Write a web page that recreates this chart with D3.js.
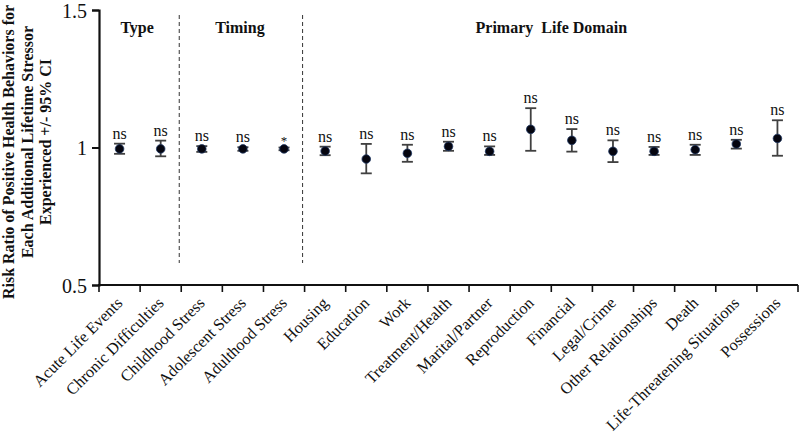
<!DOCTYPE html>
<html>
<head>
<meta charset="utf-8">
<script src="https://cdn.jsdelivr.net/npm/d3@7"></script>
<style>
  body { margin: 0; background: #fff; }
  svg { display: block; }
  text { font-family: "Liberation Serif", "Times New Roman", serif; }
</style>
</head>
<body>
<svg id="chart" width="800" height="435"></svg>
<script>
const categories = ["Acute Life Events","Chronic Difficulties","Childhood Stress","Adolescent Stress","Adulthood Stress","Housing","Education","Work","Treatment/Health","Marital/Partner","Reproduction","Financial","Legal/Crime","Other Relationships","Death","Life-Threatening Situations","Possessions"];
const riskRatio = [0.995,0.995,0.995,0.995,0.995,0.987,0.958,0.979,1.004,0.986,1.066,1.026,0.986,0.986,0.992,1.013,1.033];
const ciLower  = [0.977,0.968,0.984,0.988,0.990,0.972,0.906,0.948,0.988,0.973,0.988,0.985,0.947,0.973,0.973,0.996,0.970];
const ciUpper  = [1.014,1.025,1.005,1.001,1.000,1.003,1.013,1.010,1.021,1.004,1.143,1.067,1.026,1.002,1.010,1.028,1.099];
const significance = ["ns","ns","ns","ns","*","ns","ns","ns","ns","ns","ns","ns","ns","ns","ns","ns","ns"];
const groups = [{name:"Type", start:0, end:2},{name:"Timing", start:2, end:5},{name:"Primary  Life Domain", start:5, end:17}];
const yTicks = [0.5, 1, 1.5];
const yTitle = ["Risk Ratio of Positive Health Behaviors for","Each Additional Lifetime Stressor","Experienced +/- 95% CI"];

const svg = d3.select("#chart");
const mLeft = 99, mRight = 798, mTop = 10, mBottom = 285;

const x = d3.scaleBand().domain(d3.range(categories.length)).range([mLeft, mRight]).padding(0);
const y = d3.scaleLinear().domain([0.5, 1.5]).range([mBottom, mTop]);

// dashed separators
groups.slice(1).forEach(g => {
  const xs = x(g.start) - 2;
  svg.append("line").attr("x1", xs).attr("x2", xs).attr("y1", 15).attr("y2", 263)
    .attr("stroke", "#333").attr("stroke-width", 1).attr("stroke-dasharray", "4,3");
});

// group labels
groups.forEach(g => {
  const cx = (x(g.start) + x(g.end - 1) + x.bandwidth()) / 2;
  svg.append("text").attr("x", cx + (g.start === 5 ? 0 : -3)).attr("y", 33)
    .attr("text-anchor", "middle").attr("font-weight", "bold").attr("font-size", 16)
    .attr("fill", "#111").style("white-space", "pre").text(g.name);
});

// y axis
const yAxis = svg.append("g").attr("transform", `translate(${mLeft},0)`)
  .call(d3.axisLeft(y).tickValues(yTicks).tickFormat(d => d3.format("")(d)).tickSize(7).tickPadding(5));
yAxis.select(".domain").attr("stroke", "#111").attr("stroke-width", 2.2);
yAxis.selectAll(".tick line").attr("stroke", "#111").attr("stroke-width", 2);
yAxis.selectAll(".tick text").attr("font-size", 20).attr("fill", "#111")
  .attr("font-family", "Liberation Serif, serif").attr("dy", "0.35em");

// x axis
const xAxis = svg.append("g").attr("transform", `translate(0,${mBottom})`);
xAxis.append("line").attr("x1", mLeft - 1).attr("x2", mRight).attr("y1", 0).attr("y2", 0)
  .attr("stroke", "#111").attr("stroke-width", 2.2);
d3.range(categories.length + 1).forEach(i => {
  const xt = mLeft + i * x.bandwidth();
  xAxis.append("line").attr("x1", xt).attr("x2", xt).attr("y1", 0).attr("y2", 7)
    .attr("stroke", "#111").attr("stroke-width", 1.6);
});
categories.forEach((c, i) => {
  const cx = x(i) + x.bandwidth() / 2;
  svg.append("text").attr("transform", `translate(${cx + 4},${mBottom + 19}) rotate(-45)`)
    .attr("text-anchor", "end").attr("font-size", 16.3).attr("fill", "#111").text(c);
});

// y title
yTitle.forEach((t, i) => {
  svg.append("text").attr("transform", `translate(${14 + i * 18.5},${i === 0 ? 152 : 142}) rotate(-90)`)
    .attr("text-anchor", "middle").attr("font-weight", "bold").attr("font-size", 16)
    .attr("fill", "#111").text(t);
});

// error bars and points
const pts = svg.append("g");
categories.forEach((c, i) => {
  const cx = x(i) + x.bandwidth() / 2;
  const g = pts.append("g");
  g.append("line").attr("x1", cx).attr("x2", cx).attr("y1", y(ciLower[i])).attr("y2", y(ciUpper[i]))
    .attr("stroke", "#404040").attr("stroke-width", 1.8);
  [ciLower[i], ciUpper[i]].forEach(v => {
    g.append("line").attr("x1", cx - 5.5).attr("x2", cx + 5.5).attr("y1", y(v)).attr("y2", y(v))
      .attr("stroke", "#404040").attr("stroke-width", 1.8);
  });
  g.append("circle").attr("cx", cx).attr("cy", y(riskRatio[i])).attr("r", 4.3)
    .attr("fill", "#05050f").attr("stroke", "#1f3864").attr("stroke-width", 0.8);
  const sig = significance[i];
  g.append("text").attr("x", cx).attr("y", y(ciUpper[i]) - (sig === "*" ? 3 : 5))
    .attr("text-anchor", "middle").attr("font-size", sig === "*" ? 13 : 16).attr("fill", "#111")
    .attr("font-family", "Liberation Serif, serif").text(sig);
});
</script>
</body>
</html>
